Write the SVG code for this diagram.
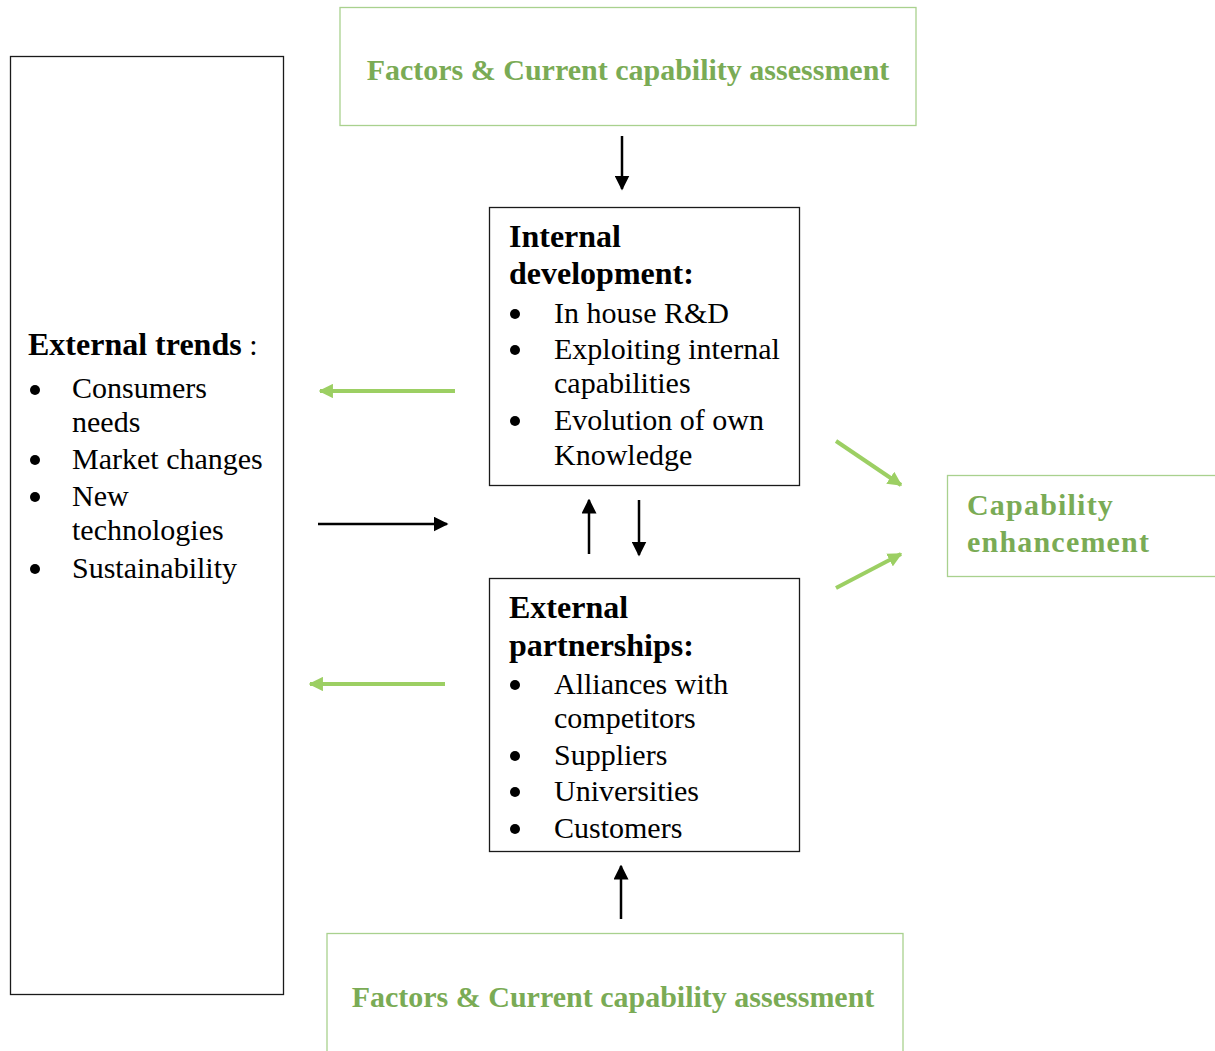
<svg xmlns="http://www.w3.org/2000/svg" width="1215" height="1051" viewBox="0 0 1215 1051">
  <style>
    .box { fill: #ffffff; stroke: #1a1a1a; stroke-width: 1.3; }
    .gbox { fill: #ffffff; stroke: #a9d18e; stroke-width: 1.3; }
    .head { font-family: "Liberation Serif", "Times New Roman", serif; font-weight: bold; font-size: 32px; fill: #000; }
    .body { font-family: "Liberation Serif", "Times New Roman", serif; font-size: 30px; fill: #000; }
    .gtitle { font-family: "Liberation Serif", "Times New Roman", serif; font-weight: bold; font-size: 30px; fill: #7aab55; }
    .blk { stroke: #000; stroke-width: 2.5; fill: none; }
    .grn { stroke: #9ccf63; stroke-width: 4; fill: none; }
  </style>
  <defs>
    <marker id="ahBlack" viewBox="0 0 10 10" refX="9" refY="5" markerWidth="6" markerHeight="6" markerUnits="strokeWidth" orient="auto">
      <path d="M0,0 L10,5 L0,10 z" fill="#000"/>
    </marker>
    <marker id="ahGreen" viewBox="0 0 10 10" refX="9" refY="5" markerWidth="3.6" markerHeight="3.6" markerUnits="strokeWidth" orient="auto">
      <path d="M0,0 L10,5 L0,10 z" fill="#9ccf63"/>
    </marker>
  </defs>

  <g id="factors-top">
    <rect class="gbox" x="340" y="7.5" width="576" height="118"/>
    <text class="gtitle" x="628" y="80" text-anchor="middle">Factors &amp; Current capability assessment</text>
  </g>

  <g id="external-trends">
    <rect class="box" x="10.5" y="56.5" width="273" height="938"/>
    <text x="28" y="355"><tspan class="head">External trends</tspan><tspan class="body"> :</tspan></text>
    <g class="body">
      <circle cx="35" cy="390" r="5"/>
      <text x="72" y="398">Consumers</text>
      <text x="72" y="432">needs</text>
      <circle cx="35" cy="460" r="5"/>
      <text x="72" y="469">Market changes</text>
      <circle cx="35" cy="497" r="5"/>
      <text x="72" y="506">New</text>
      <text x="72" y="540">technologies</text>
      <circle cx="35" cy="569" r="5"/>
      <text x="72" y="578">Sustainability</text>
    </g>
  </g>

  <g id="internal-development">
    <rect class="box" x="489.5" y="207.5" width="310" height="278"/>
    <text class="head" x="509" y="247">Internal</text>
    <text class="head" x="509" y="284">development:</text>
    <g class="body">
      <circle cx="515" cy="314" r="5"/>
      <text x="554" y="323">In house R&amp;D</text>
      <circle cx="515" cy="350" r="5"/>
      <text x="554" y="359">Exploiting internal</text>
      <text x="554" y="393">capabilities</text>
      <circle cx="515" cy="421" r="5"/>
      <text x="554" y="430">Evolution of own</text>
      <text x="554" y="465">Knowledge</text>
    </g>
  </g>

  <g id="external-partnerships">
    <rect class="box" x="489.5" y="578.5" width="310" height="273"/>
    <text class="head" x="509" y="618">External</text>
    <text class="head" x="509" y="656">partnerships:</text>
    <g class="body">
      <circle cx="515" cy="685" r="5"/>
      <text x="554" y="694">Alliances with</text>
      <text x="554" y="728">competitors</text>
      <circle cx="515" cy="756" r="5"/>
      <text x="554" y="765">Suppliers</text>
      <circle cx="515" cy="792" r="5"/>
      <text x="554" y="801">Universities</text>
      <circle cx="515" cy="829" r="5"/>
      <text x="554" y="838">Customers</text>
    </g>
  </g>

  <g id="capability-enhancement">
    <rect class="gbox" x="947.5" y="475.5" width="280" height="101"/>
    <text class="gtitle" x="967" y="515" style="letter-spacing:1.2px">Capability</text>
    <text class="gtitle" x="967" y="552" style="letter-spacing:1.2px">enhancement</text>
  </g>

  <g id="factors-bottom">
    <rect class="gbox" x="327" y="933.5" width="576" height="130"/>
    <text class="gtitle" x="613" y="1007" text-anchor="middle">Factors &amp; Current capability assessment</text>
  </g>

  <g id="connectors">
    <line class="blk" x1="622" y1="136" x2="622" y2="189" marker-end="url(#ahBlack)"/>
    <line class="grn" x1="455" y1="391" x2="320" y2="391" marker-end="url(#ahGreen)"/>
    <line class="blk" x1="318" y1="524" x2="447" y2="524" marker-end="url(#ahBlack)"/>
    <line class="blk" x1="589" y1="554" x2="589" y2="500" marker-end="url(#ahBlack)"/>
    <line class="blk" x1="639" y1="500" x2="639" y2="555" marker-end="url(#ahBlack)"/>
    <line class="grn" x1="445" y1="684" x2="310" y2="684" marker-end="url(#ahGreen)"/>
    <line class="blk" x1="621" y1="919" x2="621" y2="866" marker-end="url(#ahBlack)"/>
    <line class="grn" x1="836" y1="441" x2="901" y2="485" marker-end="url(#ahGreen)"/>
    <line class="grn" x1="836" y1="588" x2="901" y2="554" marker-end="url(#ahGreen)"/>
  </g>
</svg>
